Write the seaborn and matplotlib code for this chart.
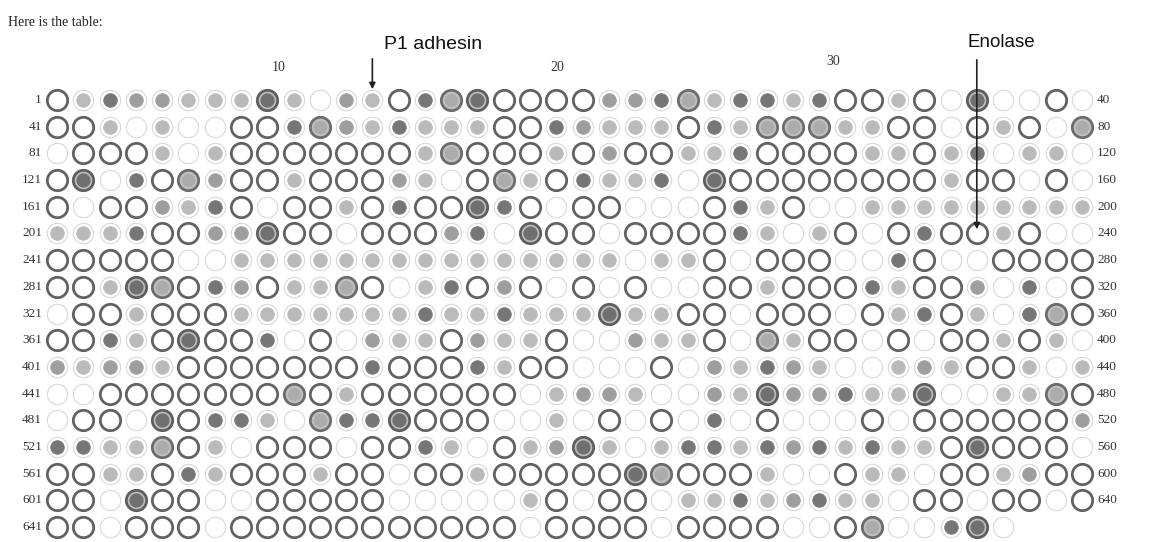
import numpy as np
import pandas as pd
import matplotlib
matplotlib.use("Agg")
import matplotlib.pyplot as plt
import seaborn as sns

# -----------------------------
# Data
# -----------------------------
# O = open ring, e = empty spot, l/g/d = light/grey/dark dot,
# M = grey filled ring, D = dark filled ring
ROW_STARTS = [1, 41, 81, 121, 161, 201, 241, 281, 321, 361, 401, 441, 481, 521, 561, 601, 641]
ROW_ENDS = [40, 80, 120, 160, 200, 240, 280, 320, 360, 400, 440, 480, 520, 560, 600, 640]
SPOTS = [
    "O l d g g l l l D l e g l O d M D O O O  O g g d M l d d l d O O l O e D e e O e",
    "O O l e l e e O O d M g l d l l l O O d  g l l l O d l M M M l l O O e O l O e M",
    "e O O O l e l O O O O O O O l M O O O l  O g O O l l d O O O O l l O l d e l l e",
    "O D e d O M g O O l O O O g l e O M l O  d l l d e D O O O O O O O O l O O e O e",
    "O e O O g l d O e O O l O d O O D d O e  O O e e e O d l O e e l l l l l l l l l",
    "l l l d O O g g D O O e O O O g d e D O  O e O O O O d l e l O e O d O O l O e e",
    "O O O O O e e l l l l l l l l l l l l l  l l e l l O e O O O e e d O e e O O O O",
    "O O l D M O d g O l l M O e l d O g O e  O e O e e O O l O O O d l O O g e d e O",
    "e O O l O O O l l l l l l l d l l d l l  l D l l O O e O O O e O l d O l e d M O",
    "O O d l O D O O d e O e g l l O g l l O  e e g l l O e M l O O e O e O O l O l e",
    "g l g g l O O O O O O O d O O O d l O O  e e e O e g l d g l e e l g l O O l e l",
    "e e O O O O O O O M O l O O O O O O e l  g g l e e g l D g g d l l D e e l l M O",
    "e O O e D O d d l e M d d D O O O e e l  e O e O e d e O e e e O e O O O O O O g",
    "d d l l M O l e O O O e O O d l e O l g  D l e l d d l d g d l d l l O D O O O e",
    "O O l l O d l O O O l O O e O O l O O O  O O D M O O O l e e O l l e O O l g O O",
    "O O e D O O e e O O O O O e e e e e l O  e O O e l l d l g d l l e O O e O O e O",
    "O O e O O O e O O O O O O O O O O O e O  O O O e O O O O e e O M e e d D e",
]
COL_TICKS = [10, 20, 30]
MARKED = [("P1 adhesin", 0, 13), ("Enolase", 5, 36)]

# -----------------------------
# Pixel geometry of the scan
# -----------------------------
W, H = 1152, 542
COL1_PX, COL_STEP = 57.0, 26.28
ROW0_PX, ROW_STEP = 100.0, 26.69


def px2x(px):
    return 1 + (px - COL1_PX) / COL_STEP


def py2y(py):
    return (py - ROW0_PX) / ROW_STEP


records = []
for r, row in enumerate(SPOTS):
    for c, code in enumerate(row.split(), start=1):
        records.append((r, c, code))
df = pd.DataFrame(records, columns=["row", "col", "code"])

fig = plt.figure(figsize=(W / 100, H / 100), dpi=100)
ax = fig.add_axes([0, 0, 1, 1])
ax.set_xlim(px2x(0), px2x(W))
ax.set_ylim(py2y(H), py2y(0))
ax.axis("off")

BIG = 215
SMALL = 95
LW = 2.0
RING = "#626262"

# faint halo behind every small / empty spot
halo = df[df["code"].isin(["e", "l", "g", "d"])]
sns.scatterplot(data=halo, x="col", y="row", s=215, marker="o", color="white",
                edgecolor="#d8d8d8", linewidth=0.8, ax=ax, legend=False, zorder=1)

dots = {"l": "#bababa", "g": "#9e9e9e", "d": "#767676"}
for code, colour in dots.items():
    sub = df[df["code"] == code]
    sns.scatterplot(data=sub, x="col", y="row", s=SMALL, marker="o", color=colour,
                    edgecolor=colour, linewidth=0.6, ax=ax, legend=False, zorder=2)

rings = df[df["code"] == "O"]
sns.scatterplot(data=rings, x="col", y="row", s=BIG, marker="o", color="white",
                edgecolor=RING, linewidth=LW, ax=ax, legend=False, zorder=2)

mid = df[df["code"] == "M"]
sns.scatterplot(data=mid, x="col", y="row", s=BIG, marker="o", color="#c0c0c0",
                edgecolor="#6c6c6c", linewidth=LW, ax=ax, legend=False, zorder=2)
sns.scatterplot(data=mid, x="col", y="row", s=95, marker="o", color="#acacac",
                edgecolor="#acacac", linewidth=0, ax=ax, legend=False, zorder=3)

dark = df[df["code"] == "D"]
sns.scatterplot(data=dark, x="col", y="row", s=BIG, marker="o", color="#bdbdbd",
                edgecolor="#5e5e5e", linewidth=LW, ax=ax, legend=False, zorder=2)
sns.scatterplot(data=dark, x="col", y="row", s=105, marker="o", color="#707070",
                edgecolor="#707070", linewidth=0, ax=ax, legend=False, zorder=3)

# row labels
serif = "Liberation Serif"
for r, start in enumerate(ROW_STARTS):
    ax.text(px2x(42), r, str(start), ha="right", va="center", fontsize=9.5,
            family=serif, color="#333333")
for r, end in enumerate(ROW_ENDS):
    ax.text(px2x(1097), r, str(end), ha="left", va="center", fontsize=9.5,
            family=serif, color="#333333")

# column numbers
for c, px, py in zip(COL_TICKS, [279, 557, 833], [68, 68, 62]):
    ax.text(px2x(px), py2y(py), str(c), ha="center", va="center", fontsize=10,
            family=serif, color="#333333")

# annotations
ax.text(px2x(8), py2y(22), "Here is the table:", ha="left", va="center",
        fontsize=10, family=serif, color="#222222")
name, r, c = MARKED[0]
ax.annotate("", xy=(c, r - 0.3), xytext=(c, py2y(56)),
            arrowprops=dict(arrowstyle="-|>", color="#222222", lw=1.2,
                            mutation_scale=9))
ax.text(c + 0.45, py2y(45), name, ha="left", va="center", fontsize=14,
        family="Liberation Sans", color="#111111")
name, r, c = MARKED[1]
ax.annotate("", xy=(c, r - 0.05), xytext=(c, py2y(57)),
            arrowprops=dict(arrowstyle="-|>", color="#222222", lw=1.2,
                            mutation_scale=9))
ax.text(c - 0.35, py2y(43), name, ha="left", va="center", fontsize=13.5,
        family="Liberation Sans", color="#111111")

fig.savefig("out.png", dpi=100)
